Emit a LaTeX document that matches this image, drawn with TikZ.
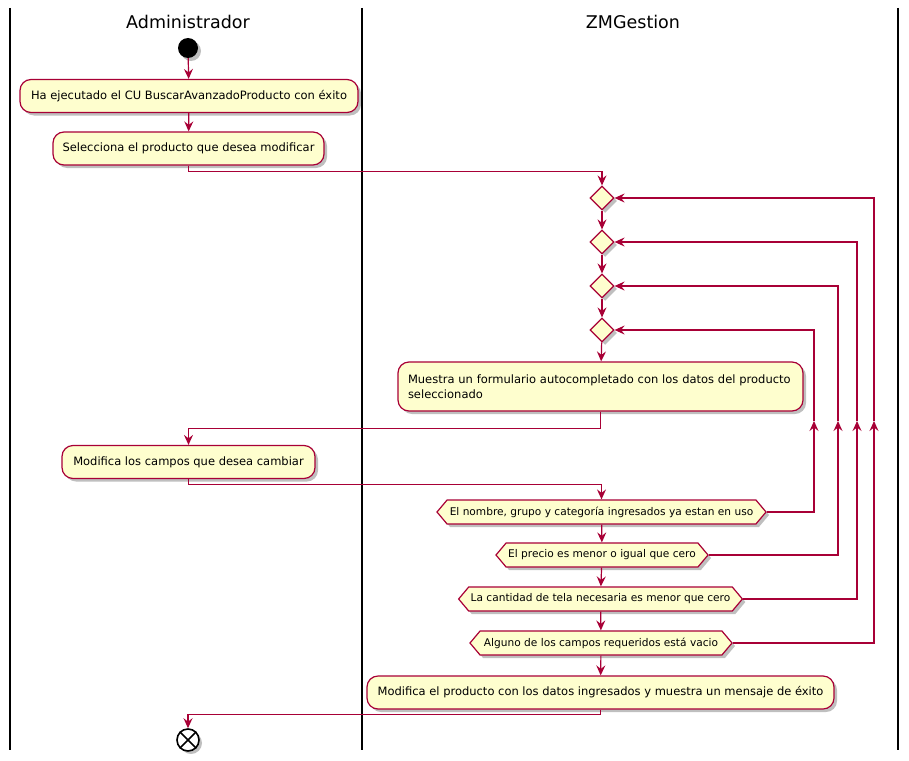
\documentclass[tikz,border=0pt]{standalone}
\usepackage{fontspec}
\setmainfont{DejaVu Sans}
\usetikzlibrary{arrows.meta,shapes.symbols,shapes.geometric,shadows}
\definecolor{pline}{HTML}{A80036}
\definecolor{pfill}{HTML}{FEFECE}
\begin{document}
\begin{tikzpicture}[x=1pt,y=-1pt,
  shad/.style={drop shadow={shadow xshift=3pt,shadow yshift=-3pt,opacity=0.25,fill=black}},
  act/.style={draw=pline,fill=pfill,rounded corners=11pt,line width=1.2pt,
    font=\fontsize{11.5}{15}\selectfont,minimum height=33pt,inner sep=0pt,shad},
  hex/.style={signal,signal to=east and west,signal pointer angle=100,draw=pline,fill=pfill,
    line width=1.2pt,minimum height=24pt,inner xsep=2pt,inner ysep=0pt,
    font=\fontsize{10.6}{12}\selectfont,shad},
  dia/.style={diamond,draw=pline,fill=pfill,line width=1.2pt,minimum width=24pt,minimum height=24pt,inner sep=0pt,shad},
  flow/.style={draw=pline,line width=1.2pt,-{Stealth[length=10pt,width=9pt,inset=3.5pt]}},
  lane/.style={draw=black,line width=1.6pt},
  head/.style={font=\fontsize{17.5}{20}\selectfont}]
\useasboundingbox (0,0) rectangle (909,760);
% lanes
\draw[lane] (10,8) -- (10,750);
\draw[lane] (362,8) -- (362,750);
\draw[lane] (898,8) -- (898,750);
\node[head] (hA) at (188,22) {Administrador};
\node[head] (hZ) at (633,22) {ZMGestion};
% nodes
\node[circle,fill=black,minimum size=20pt,inner sep=0pt,shad] (start) at (188,48) {};
\node[act,minimum width=338pt] (a1) at (189,96) {Ha ejecutado el CU BuscarAvanzadoProducto con éxito};
\node[act,minimum width=271pt] (a2) at (188.5,148.5) {Selecciona el producto que desea modificar};
\node[dia] (d1) at (602,198) {};
\node[dia] (d2) at (602,242) {};
\node[dia] (d3) at (602,286) {};
\node[dia] (d4) at (602,330) {};
\node[act,minimum width=405pt,minimum height=49pt,align=left,text width=385pt] (a3) at (600.5,386.5) {Muestra un formulario autocompletado con los datos del producto\\seleccionado};
\node[act,minimum width=253pt] (a4) at (188.5,462) {Modifica los campos que desea cambiar};
\node[hex,minimum width=329pt] (h1) at (601.5,512) {El nombre, grupo y categoría ingresados ya estan en uso};
\node[hex,minimum width=212pt] (h2) at (602,555) {El precio es menor o igual que cero};
\node[hex,minimum width=281pt] (h3) at (600.5,599) {La cantidad de tela necesaria es menor que cero};
\node[hex,minimum width=262pt] (h4) at (601,643) {Alguno de los campos requeridos está vacio};
\node[act,minimum width=467pt] (a5) at (600.5,692.5) {Modifica el producto con los datos ingresados y muestra un mensaje de éxito};
\node[circle,draw=black,line width=1.6pt,fill=white,minimum size=22pt,inner sep=0pt,shad] (end) at (188,740) {};
\draw[black,line width=1.6pt] (end.45) -- (end.225) (end.135) -- (end.-45);
% flow
\draw[flow] (start) -- (a1);
\draw[flow] (a1) -- (a2);
\draw[flow] (a2.south) -- ++(0,6) -| (d1.north);
\draw[flow] (d1) -- (d2);
\draw[flow] (d2) -- (d3);
\draw[flow] (d3) -- (d4);
\draw[flow] (d4) -- (a3);
\draw[flow] (a3.south) -- ++(0,17) -| (a4.north);
\draw[flow] (a4.south) -- ++(0,5) -| (h1.north);
\draw[flow] (h1) -- (h2);
\draw[flow] (h2) -- (h3);
\draw[flow] (h3) -- (h4);
\draw[flow] (h4) -- (a5);
\draw[flow] (a5.south) -- ++(0,5) -| (end.north);
% loops
\coordinate (k1) at (814,421);
\coordinate (k2) at (838,421);
\coordinate (k3) at (857,421);
\coordinate (k4) at (874,421);
\draw[flow] (h1.east) -| (k1);
\draw[flow] (k1) |- (d4.east);
\draw[flow] (h2.east) -| (k2);
\draw[flow] (k2) |- (d3.east);
\draw[flow] (h3.east) -| (k3);
\draw[flow] (k3) |- (d2.east);
\draw[flow] (h4.east) -| (k4);
\draw[flow] (k4) |- (d1.east);
\end{tikzpicture}
\end{document}
